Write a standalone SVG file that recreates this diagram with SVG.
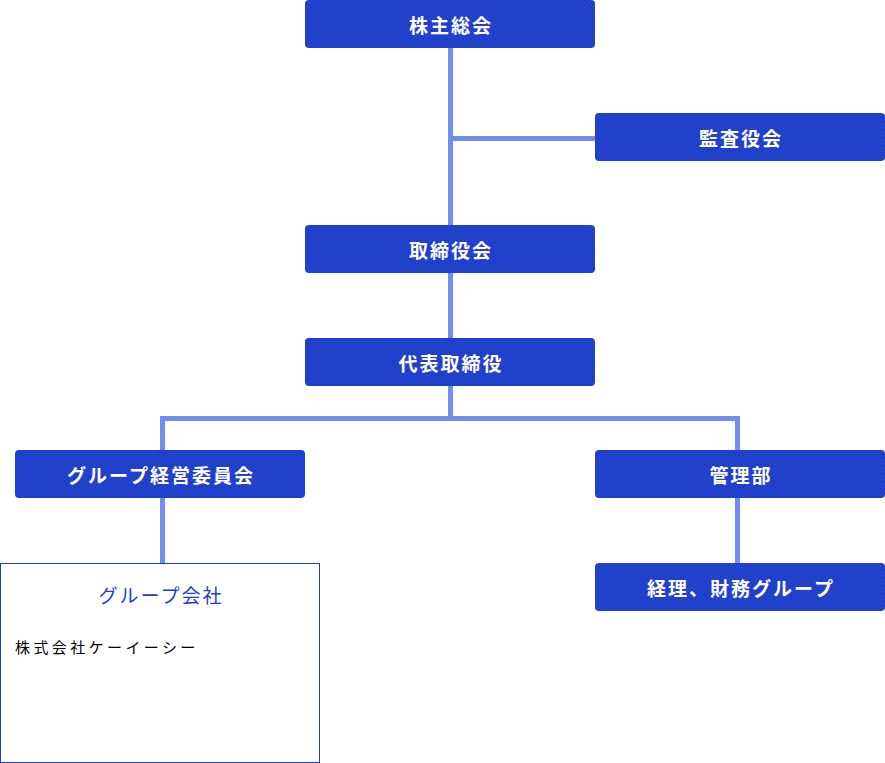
<svg xmlns="http://www.w3.org/2000/svg" width="885" height="763" viewBox="0 0 885 763">
<style>
.box{fill:url(#hatch);}
.lbl{fill:#ffffff;font-family:"Noto Sans CJK JP","Noto Sans",sans-serif;font-size:19px;font-weight:bold;letter-spacing:2px;text-anchor:middle;dominant-baseline:central;}
.conn{stroke:#6f8eee;stroke-width:5;fill:none;}
</style>
<defs>
<pattern id="hatch" width="4" height="4" patternUnits="userSpaceOnUse">
<rect width="4" height="4" fill="#1f3ec8"/>
<path d="M-1,1 L1,-1 M0,4 L4,0 M3,5 L5,3" stroke="#2849d4" stroke-width="1"/>
</pattern>
</defs>
<g id="connectors">
<path class="conn" d="M450.5,47 V338"/>
<path class="conn" d="M450.5,138.5 H596"/>
<path class="conn" d="M450.5,385 V418.5"/>
<path class="conn" d="M162.5,451 V418.5 H737.5 V451"/>
<path class="conn" d="M162.5,497 V564"/>
<path class="conn" d="M737.5,497 V564"/>
</g>
<g id="n1"><rect class="box" x="305" y="0" width="290" height="48" rx="4"/><text class="lbl" x="451" y="24">株主総会</text></g>
<g id="n2"><rect class="box" x="595" y="113" width="290" height="48" rx="4"/><text class="lbl" x="741" y="137">監査役会</text></g>
<g id="n3"><rect class="box" x="305" y="225" width="290" height="48" rx="4"/><text class="lbl" x="451" y="249">取締役会</text></g>
<g id="n4"><rect class="box" x="305" y="338" width="290" height="48" rx="4"/><text class="lbl" x="451" y="362">代表取締役</text></g>
<g id="n5"><rect class="box" x="15" y="450" width="290" height="48" rx="4"/><text class="lbl" x="161" y="474">グループ経営委員会</text></g>
<g id="n6"><rect class="box" x="595" y="450" width="290" height="48" rx="4"/><text class="lbl" x="741" y="474">管理部</text></g>
<g id="n7"><rect class="box" x="595" y="563" width="290" height="48" rx="4"/><text class="lbl" x="741" y="587">経理、財務グループ</text></g>
<g id="n8">
<rect x="0.5" y="563.5" width="319" height="199" fill="#ffffff" stroke="#1f3ec8" stroke-width="1"/>
<text x="161" y="594" font-family="'Noto Sans CJK JP','Noto Sans',sans-serif" font-size="19" fill="#1f3ec8" letter-spacing="2" text-anchor="middle" dominant-baseline="central">グループ会社</text>
<text x="15" y="646" font-family="'Noto Sans CJK JP','Noto Sans',sans-serif" font-size="15" fill="#000000" letter-spacing="3.4" dominant-baseline="central">株式会社ケーイーシー</text>
</g>
</svg>
